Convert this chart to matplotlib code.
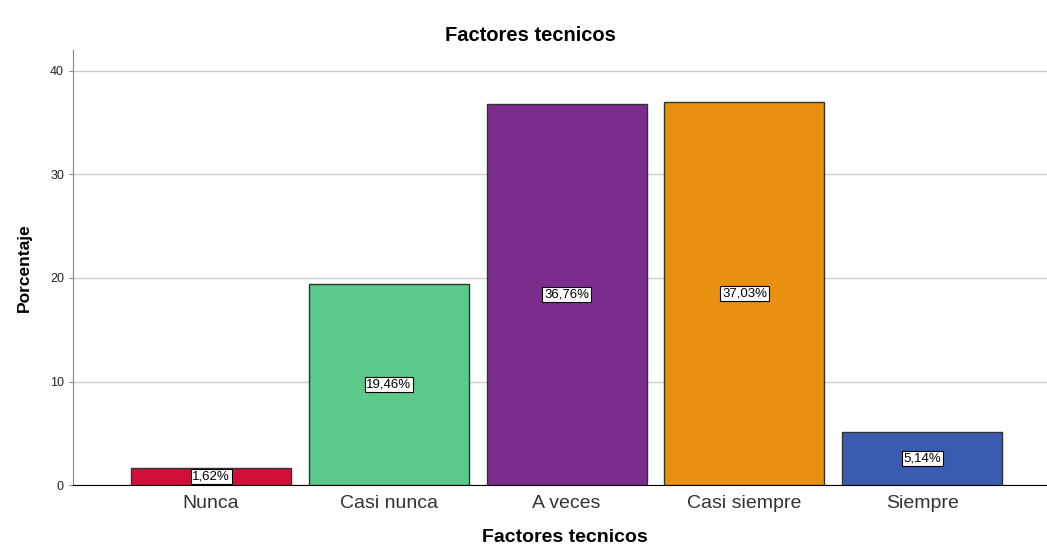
import matplotlib.pyplot as plt

categories = ['Nunca', 'Casi nunca', 'A veces', 'Casi siempre', 'Siempre']
percentages = [1.62, 19.46, 36.76, 37.03, 5.14]
bar_colors = ['#D0103A', '#5BC98A', '#7B2D8E', '#E8900F', '#3A5BB0']
y_ticks = [0, 10, 20, 30, 40]

plt.rcParams['font.family'] = ['Liberation Sans', 'DejaVu Sans']

fig = plt.figure(figsize=(10.47, 5.45), dpi=100)
ax = fig.add_axes([0.0697, 0.110, 0.930, 0.798])

x = list(range(len(categories)))
bars = ax.bar(x, percentages, width=0.9, color=bar_colors,
              edgecolor='#333333', linewidth=1.0, zorder=3)

for b, v in zip(bars, percentages):
    ax.text(b.get_x() + b.get_width() / 2, v / 2,
            f"{v:.2f}%".replace('.', ','),
            ha='center', va='center', fontsize=9.5, color='black', zorder=4,
            bbox=dict(facecolor='white', edgecolor='black', linewidth=0.8, pad=1.2))

ax.set_xlim(-0.777, 4.70)
ax.set_ylim(0, 42)
ax.set_yticks(y_ticks)
ax.set_xticks(x)
ax.set_xticklabels(categories, fontsize=14, color='#333333')
ax.tick_params(axis='y', labelsize=9, length=3, color='#888888', labelcolor='#222222')
ax.tick_params(axis='x', length=0, pad=7)

ax.grid(axis='y', color='#cccccc', linewidth=1.0, zorder=0)
for s in ['top', 'right']:
    ax.spines[s].set_visible(False)
ax.spines['left'].set_color('#888888')
ax.spines['bottom'].set_color('black')

fig.text(530 / 1047, 1 - 35 / 545, 'Factores tecnicos', fontsize=14.5,
         fontweight='bold', ha='center', va='center')
fig.text(565 / 1047, 1 - 537 / 545, 'Factores tecnicos', fontsize=14,
         fontweight='bold', ha='center', va='center')
ax.set_ylabel('Porcentaje', fontsize=12.5, fontweight='bold', labelpad=13)

fig.savefig('out.png', dpi=100)
